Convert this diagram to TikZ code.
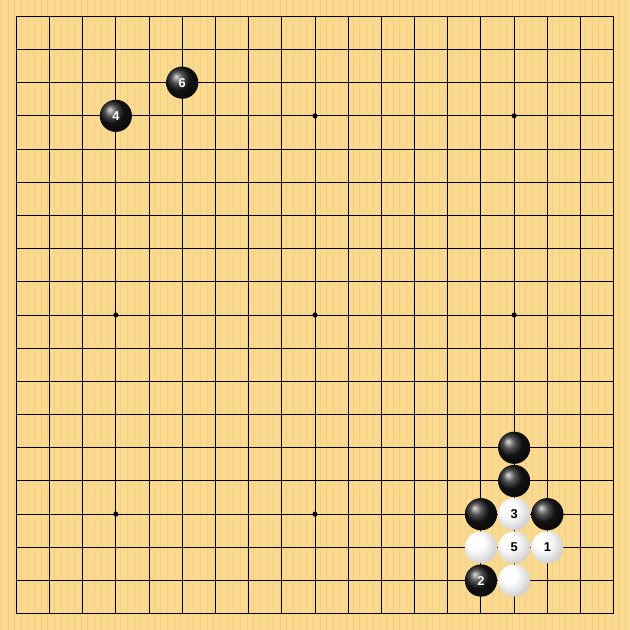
\documentclass[tikz,border=0pt]{standalone}
\usepackage{fontspec}
\setsansfont{Liberation Sans}
\definecolor{wood}{RGB}{250,218,142}
\definecolor{grain}{RGB}{240,200,120}
\pgfdeclareradialshading{wball}{\pgfpoint{-10bp}{10bp}}{color(0bp)=(white); color(12bp)=(white); color(30bp)=(black!18); color(45bp)=(black!40); color(60bp)=(black!50)}

\begin{document}
\begin{tikzpicture}[
  line/.style = {line width=0.8pt, black},
  hoshi/.style = {circle, fill=black, inner sep=0pt, minimum size=4.4pt},
  bstone/.style = {circle, inner sep=0pt, minimum size=0.97cm, shading=ball, ball color=black!90,
                   text=white, font=\sffamily\bfseries\fontsize{11}{11}\selectfont},
  wstone/.style = {circle, inner sep=0pt, minimum size=0.97cm, shading=wball,
                   text=black, font=\sffamily\bfseries\fontsize{11}{11}\selectfont}
]
\fill [wood] (-0.49,-0.49) rectangle (18.49,18.49);
\useasboundingbox (-0.49,-0.49) rectangle (18.49,18.49);
\foreach \i in {0,...,94}
  \draw [grain, line width=0.6pt, opacity=0.5] (-0.45+0.2*\i,-0.49) -- (-0.45+0.2*\i,18.49);
\foreach \i in {0,...,18} {
  \draw [line] (\i,0) -- (\i,18);
  \draw [line] (0,\i) -- (18,\i);
}
\foreach \c/\r in {3/3,9/3,15/3,3/9,9/9,15/9,3/15,9/15,15/15}
  \node [hoshi] (h-\c-\r) at (\c,18-\r) {};
\foreach \c/\r/\t in {5/2/6, 3/3/4, 15/13/, 15/14/, 14/15/, 16/15/, 14/17/2}
  \node [bstone] (s-\c-\r) at (\c,18-\r) {\t};
\foreach \c/\r/\t in {15/15/3, 14/16/, 15/16/5, 16/16/1, 15/17/}
  \node [wstone] (s-\c-\r) at (\c,18-\r) {\t};
\end{tikzpicture}
\end{document}
